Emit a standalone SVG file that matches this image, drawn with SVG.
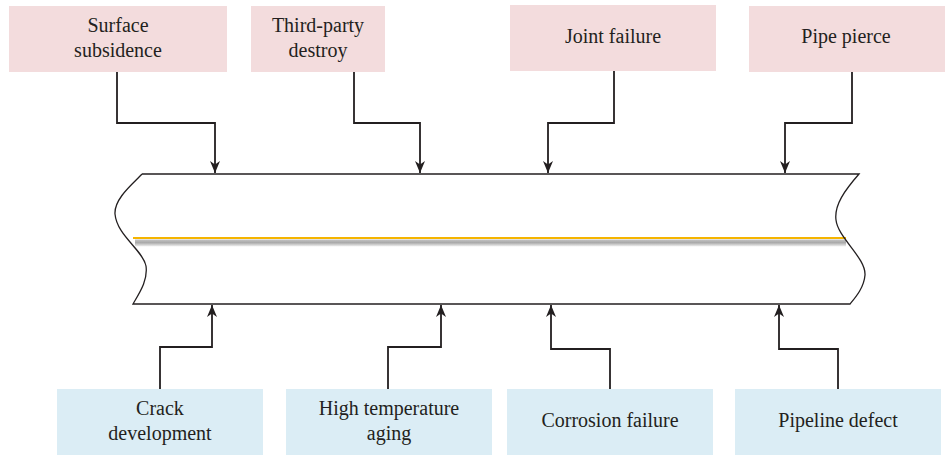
<svg xmlns="http://www.w3.org/2000/svg" width="945" height="455" viewBox="0 0 945 455">
  <style>
    .cause-top { fill: #f3dcdd; }
    .cause-bottom { fill: #dbedf5; }
    .label { font-family: "Liberation Serif", "Times New Roman", serif; font-size: 20px; fill: #231f20; text-anchor: middle; }
    .conn { fill: none; stroke: #231f20; stroke-width: 1.8; }
    .pipe { fill: none; stroke: #231f20; stroke-width: 1.3; }
  </style>
  <defs>
    <marker id="arrow" viewBox="0 0 12 12" refX="12" refY="6" markerWidth="12" markerHeight="12" markerUnits="userSpaceOnUse" orient="auto">
      <path d="M0,1 L12,6 L0,11 L3.5,6 Z" fill="#231f20"/>
    </marker>
    <linearGradient id="shade" x1="0" y1="0" x2="0" y2="1">
      <stop offset="0" stop-color="#c4c4c4"/>
      <stop offset="0.45" stop-color="#a9a9a9"/>
      <stop offset="1" stop-color="#f2f2f2"/>
    </linearGradient>
  </defs>

  <rect width="945" height="455" fill="#ffffff"/>

  <!-- pipe section -->
  <g id="pipe">
    <rect x="135" y="239.5" width="711" height="7" fill="url(#shade)"/>
    <line x1="133" y1="238" x2="846" y2="238" stroke="#f5b400" stroke-width="2"/>
    <path class="pipe" d="M142,174 L859,174 C845,190 834,205 836,220 C838,238 866,258 865,275 C864,288 855,298 850,304 L133,304 C140,292 148,280 146,266 C143,250 117,236 115,214 C114,198 135,182 142,174"/>
  </g>

  <!-- upper causes -->
  <g id="surface-subsidence">
    <rect class="cause-top" x="9" y="6" width="218" height="66"/>
    <text class="label" x="118" y="32">Surface</text>
    <text class="label" x="118" y="57">subsidence</text>
  </g>
  <g id="third-party-destroy">
    <rect class="cause-top" x="251" y="6" width="134" height="66"/>
    <text class="label" x="318" y="32">Third-party</text>
    <text class="label" x="318" y="57">destroy</text>
  </g>
  <g id="joint-failure">
    <rect class="cause-top" x="510" y="5" width="206" height="66"/>
    <text class="label" x="613" y="43">Joint failure</text>
  </g>
  <g id="pipe-pierce">
    <rect class="cause-top" x="749" y="6" width="196" height="66"/>
    <text class="label" x="846" y="43">Pipe pierce</text>
  </g>

  <!-- lower causes -->
  <g id="crack-development">
    <rect class="cause-bottom" x="57" y="389" width="206" height="66"/>
    <text class="label" x="160" y="415">Crack</text>
    <text class="label" x="160" y="440">development</text>
  </g>
  <g id="high-temperature-aging">
    <rect class="cause-bottom" x="286" y="389" width="206" height="66"/>
    <text class="label" x="389" y="415">High temperature</text>
    <text class="label" x="389" y="440">aging</text>
  </g>
  <g id="corrosion-failure">
    <rect class="cause-bottom" x="507" y="389" width="206" height="66"/>
    <text class="label" x="610" y="427">Corrosion failure</text>
  </g>
  <g id="pipeline-defect">
    <rect class="cause-bottom" x="735" y="389" width="206" height="66"/>
    <text class="label" x="838" y="427">Pipeline defect</text>
  </g>

  <!-- connectors -->
  <g id="connectors">
    <path class="conn" marker-end="url(#arrow)" d="M117,72 V123 H215 V173"/>
    <path class="conn" marker-end="url(#arrow)" d="M354,72 V123 H420 V173"/>
    <path class="conn" marker-end="url(#arrow)" d="M614,71 V123 H548 V173"/>
    <path class="conn" marker-end="url(#arrow)" d="M852,72 V123 H785 V173"/>
    <path class="conn" marker-end="url(#arrow)" d="M160,389 V347 H212 V305"/>
    <path class="conn" marker-end="url(#arrow)" d="M388,389 V347 H441 V305"/>
    <path class="conn" marker-end="url(#arrow)" d="M610,389 V349 H551 V305"/>
    <path class="conn" marker-end="url(#arrow)" d="M838,389 V349 H779 V305"/>
  </g>
</svg>
